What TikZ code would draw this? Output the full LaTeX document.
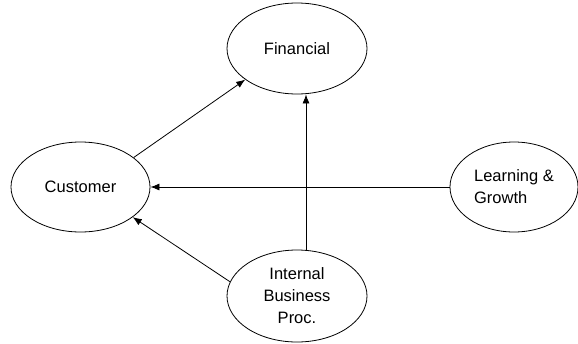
\documentclass[tikz,border=0pt]{standalone}
\usepackage{fontspec}
\setmainfont{Liberation Sans}
\usetikzlibrary{arrows.meta,positioning,calc,shapes.geometric}
\tikzset{
  goal/.style={draw=black, ellipse, line width=0.8pt, fill=white, inner sep=0pt,
               align=center, font=\fontsize{16.5}{22}\selectfont},
  arr/.style={-{Latex[length=9pt,width=7pt]}, line width=0.8pt, color=black}}

\begin{document}
\begin{tikzpicture}[x=1pt, y=-1pt]
    \useasboundingbox (0,0) rectangle (578,343);
    \node[goal, minimum width=140pt, minimum height=91pt] (financial) at (297,48.5) {Financial};
    \node[goal, minimum width=139pt, minimum height=90pt] (customer) at (80.5,187) {Customer};
    \node[goal, align=left, minimum width=128pt, minimum height=90pt] (learning) at (514,187) {Learning \&\\Growth};
    \node[goal, minimum width=140pt, minimum height=92pt] (internal) at (297,296) {Internal\\Business\\Proc.};
    \draw[arr] (customer.29) -- (financial.211);
    \draw[arr] (learning) -- (customer);
    \draw[arr] (internal.168) -- (customer.-30);
    \draw[arr] ([xshift=9pt]internal.north) -- ([xshift=9pt]internal.north |- financial.south);
  \end{tikzpicture}
\end{document}
